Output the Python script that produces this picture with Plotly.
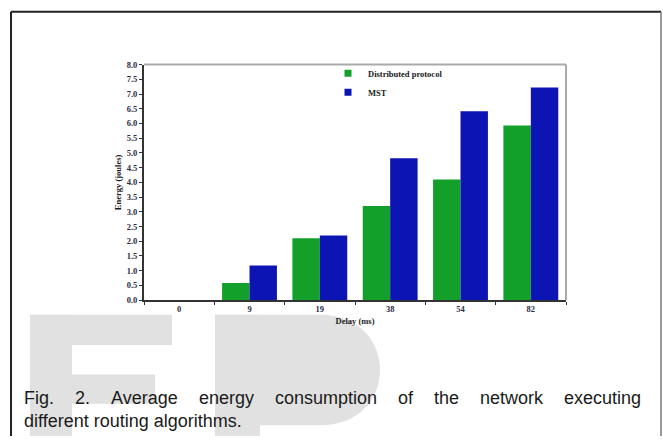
import plotly.graph_objects as go

delays = ["0", "9", "19", "38", "54", "82"]
distributed = [0.0, 0.58, 2.10, 3.20, 4.10, 5.93]
mst = [0.0, 1.18, 2.20, 4.82, 6.42, 7.22]
y_ticks = [i * 0.5 for i in range(17)]

W, H = 663, 441
GREEN = "#12a02a"
BLUE = "#0c14b4"
SERIF = "Liberation Serif"
TICKC = "#2b2b44"

def px(x):
    return x / W

def py(y):
    return 1 - y / H

fig = go.Figure()
fig.add_trace(go.Bar(x=delays, y=distributed, name="Distributed protocol",
                     marker=dict(color=GREEN, line=dict(width=0)), showlegend=False))
fig.add_trace(go.Bar(x=delays, y=mst, name="MST",
                     marker=dict(color=BLUE, line=dict(width=0)), showlegend=False))
# legend proxies
fig.add_trace(go.Scatter(x=[None], y=[None], mode="markers", name="Distributed protocol",
                         marker=dict(symbol="square", size=7, color=GREEN)))
fig.add_trace(go.Scatter(x=[None], y=[None], mode="markers", name="MST",
                         marker=dict(symbol="square", size=7, color=BLUE)))

shapes = []
# watermark letters (light gray)
WM = "#e1e1e1"
shapes += [
    dict(type="rect", xref="paper", yref="paper", x0=px(30), x1=px(172), y0=py(348), y1=py(317),
         fillcolor=WM, line=dict(width=0), layer="below"),
    dict(type="rect", xref="paper", yref="paper", x0=px(30), x1=px(72), y0=py(441), y1=py(317),
         fillcolor=WM, line=dict(width=0), layer="below"),
    dict(type="rect", xref="paper", yref="paper", x0=px(30), x1=px(155), y0=py(408), y1=py(378),
         fillcolor=WM, line=dict(width=0), layer="below"),
    dict(type="rect", xref="paper", yref="paper", x0=px(215), x1=px(260), y0=py(441), y1=py(317),
         fillcolor=WM, line=dict(width=0), layer="below"),
    dict(type="path", xref="paper", yref="paper",
         path=f"M {px(215)},{py(317)} L {px(320)},{py(317)} C {px(400)},{py(317)} {px(400)},{py(430)} {px(320)},{py(430)} L {px(215)},{py(430)} Z",
         fillcolor=WM, line=dict(width=0), layer="below"),
]
# outer frame
shapes += [
    dict(type="line", xref="paper", yref="paper", x0=px(11), x1=px(11), y0=0, y1=py(7),
         line=dict(color="#222", width=2)),
    dict(type="line", xref="paper", yref="paper", x0=px(11), x1=px(661), y0=py(7), y1=py(7),
         line=dict(color="#222", width=2)),
    dict(type="line", xref="paper", yref="paper", x0=px(661), x1=px(661), y0=0, y1=py(7),
         line=dict(color="#777", width=1.5)),
]
# plot frame top/right (gray)
shapes += [
    dict(type="line", xref="paper", yref="paper", x0=px(144), x1=px(566), y0=py(61), y1=py(61),
         line=dict(color="#aaaaaa", width=2)),
    dict(type="line", xref="paper", yref="paper", x0=px(566), x1=px(566), y0=py(61), y1=py(302),
         line=dict(color="#aaaaaa", width=2)),
]

annotations = []
CAP = dict(family="Liberation Sans", size=18, color="#1a1a1a")
# caption, line 1 justified word by word
words1 = ["Fig.", "2.", "Average", "energy", "consumption", "of", "the", "network", "executing"]
xs1 = [22, 73, 109, 197, 273, 396, 432, 478, 562]
for w, x in zip(words1, xs1):
    annotations.append(dict(text=w, x=px(x), y=py(402), xref="paper", yref="paper",
                            xanchor="left", yanchor="middle", showarrow=False, font=CAP))
annotations.append(dict(text="different routing algorithms.", x=px(22), y=py(426), xref="paper",
                        yref="paper", xanchor="left", yanchor="middle", showarrow=False, font=CAP))

fig.update_layout(
    width=W, height=H,
    margin=dict(l=0, r=0, t=0, b=0),
    paper_bgcolor="white", plot_bgcolor="white",
    barmode="group", bargap=0.22, bargroupgap=0,
    font=dict(family=SERIF, color=TICKC),
    xaxis=dict(domain=[px(144), px(566)], type="category", categoryorder="array",
               categoryarray=delays, ticks="outside", tickson="boundaries", ticklen=3,
               tickcolor="#333", showline=True, linecolor="#333", linewidth=2,
               tickfont=dict(family=SERIF, size=8.5, color=TICKC, weight="bold"),
               title=dict(text="<b>Delay (ms)</b>", font=dict(family=SERIF, size=8.5, color="#1a1a1a"),
                          standoff=5),
               showgrid=False, zeroline=False),
    yaxis=dict(domain=[py(302), py(61)], range=[0, 8], tickvals=y_ticks,
               ticktext=[f"{v:.1f}" for v in y_ticks], ticks="outside", ticklen=3,
               tickcolor="#333", showline=True, linecolor="#333", linewidth=2,
               tickfont=dict(family=SERIF, size=8.5, color=TICKC, weight="bold"),
               title=dict(text="<b>Energy (joules)</b>", font=dict(family=SERIF, size=8.5, color="#1a1a1a"),
                          standoff=4),
               showgrid=False, zeroline=False),
    legend=dict(x=px(328), y=py(55), xanchor="left", yanchor="top", bgcolor="rgba(0,0,0,0)",
                font=dict(family=SERIF, size=8.5, color="#1a1a1a", weight="bold"),
                itemwidth=30, tracegroupgap=0),
    shapes=shapes, annotations=annotations,
)

fig.write_html("out.html", config={"displayModeBar": False},
               post_script="document.body.style.margin='0';document.body.style.overflow='hidden';")
